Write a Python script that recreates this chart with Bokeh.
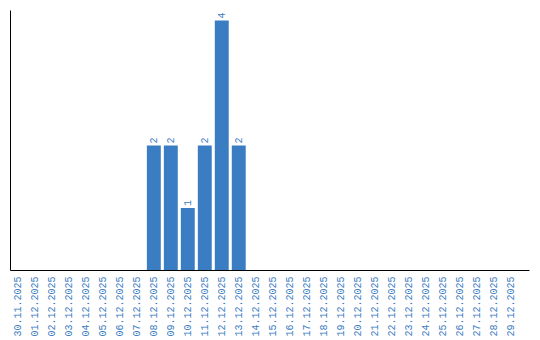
from math import pi
from bokeh.plotting import figure
from bokeh.models import ColumnDataSource, Range1d, FixedTicker
from bokeh.core.properties import value
from bokeh.embed import file_html
from bokeh.resources import INLINE

dates = ["30.11.2025"] + ["%02d.12.2025" % d for d in range(1, 30)]
counts = [0, 0, 0, 0, 0, 0, 0, 0, 2, 2, 1, 2, 4, 2, 0, 0, 0, 0, 0, 0,
          0, 0, 0, 0, 0, 0, 0, 0, 0, 0]

BLUE = "#3b7dc2"
FONT = "Liberation Mono"

xs = list(range(len(dates)))
src = ColumnDataSource(dict(x=xs, top=counts))
lab = ColumnDataSource(dict(x=[x for x, c in zip(xs, counts) if c > 0],
                            y=[c for c in counts if c > 0],
                            t=[str(c) for c in counts if c > 0]))

p = figure(frame_width=519, frame_height=260, output_backend="svg",
           toolbar_location=None, x_range=Range1d(-0.44, 30.12),
           y_range=Range1d(0, 4.16), min_border_left=10, min_border_top=10,
           min_border_right=10, min_border_bottom=0)
p.outline_line_color = None
p.xgrid.visible = False
p.ygrid.visible = False

p.vbar(x="x", top="top", width=0.82, bottom=0, source=src,
       fill_color=BLUE, line_color=None)
p.text(x="x", y="y", text="t", source=lab, angle=pi / 2, y_offset=-2,
       text_align="left", text_baseline="middle", text_color=BLUE,
       text_font=value(FONT), text_font_size="10px")

p.xaxis.ticker = FixedTicker(ticks=xs)
p.xaxis.major_label_overrides = {i: d for i, d in enumerate(dates)}
p.xaxis.major_label_orientation = pi / 2
p.xaxis.major_label_text_color = BLUE
p.xaxis.major_label_text_font = FONT
p.xaxis.major_label_text_font_size = "10px"
p.xaxis.major_tick_line_color = None
p.xaxis.minor_tick_line_color = None
p.xaxis.major_tick_out = 0
p.xaxis.major_label_standoff = 6
p.xaxis.axis_line_color = "black"

p.yaxis.ticker = FixedTicker(ticks=[])
p.yaxis.major_tick_line_color = None
p.yaxis.minor_tick_line_color = None
p.yaxis.major_tick_out = 0
p.yaxis.major_label_standoff = 0
p.yaxis.axis_line_color = "black"

open("out.html", "w").write(file_html(p, INLINE))
